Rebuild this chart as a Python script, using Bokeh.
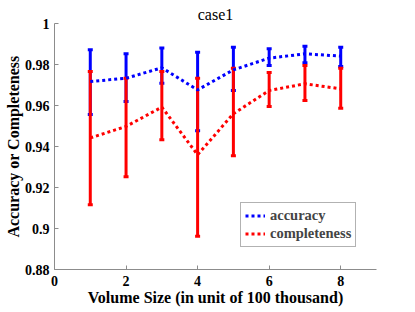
from bokeh.plotting import figure
from bokeh.models import (Whisker, ColumnDataSource, FixedTicker, TeeHead,
                          Range1d, CustomJSTickFormatter)
from bokeh.embed import file_html
from bokeh.resources import INLINE

volume = [1, 2, 3, 4, 5, 6, 7, 8]
acc_mean = [0.9717, 0.9733, 0.9784, 0.9676, 0.9774, 0.9831, 0.9852, 0.9841]
acc_low = [0.9556, 0.9620, 0.9709, 0.9477, 0.9673, 0.9795, 0.9808, 0.9790]
acc_high = [0.9872, 0.9852, 0.9880, 0.9860, 0.9884, 0.9877, 0.9889, 0.9884]
comp_mean = [0.9442, 0.9498, 0.9592, 0.9360, 0.9560, 0.9673, 0.9706, 0.9681]
comp_low = [0.9116, 0.9252, 0.9433, 0.8962, 0.9355, 0.9595, 0.9624, 0.9587]
comp_high = [0.9766, 0.9733, 0.9766, 0.9733, 0.9782, 0.9761, 0.9795, 0.9782]
x_ticks = [0, 2, 4, 6, 8]
y_ticks = [0.88, 0.90, 0.92, 0.94, 0.96, 0.98, 1.0]

FONT = "Liberation Serif"
AX = "#8c8c8c"

p = figure(width=415, height=312, output_backend="svg", toolbar_location=None,
           x_range=Range1d(0, 9), y_range=Range1d(0.88, 1.0),
           title="case1",
           min_border_left=54, min_border_right=39, min_border_top=23, min_border_bottom=43)
p.title.align = "center"
p.title.text_font = FONT
p.title.text_font_style = "normal"
p.title.text_font_size = "16px"
p.title.text_color = "black"
p.title.standoff = 1
p.title.offset = 0
p.outline_line_color = None
p.grid.visible = False
p.background_fill_color = "white"

for ax in (p.xaxis[0], p.yaxis[0]):
    ax.axis_line_color = AX
    ax.major_tick_line_color = AX
    ax.major_tick_in = 4
    ax.major_tick_out = 0
    ax.minor_tick_line_color = None
    ax.major_label_text_font = FONT
    ax.major_label_text_font_style = "bold"
    ax.major_label_text_font_size = "14px"
    ax.major_label_text_color = "black"
    ax.axis_label_text_font = FONT
    ax.axis_label_text_font_style = "bold"
    ax.axis_label_text_font_size = "16px"
    ax.axis_label_text_color = "black"

p.xaxis.ticker = FixedTicker(ticks=x_ticks)
p.yaxis.ticker = FixedTicker(ticks=y_ticks)
p.yaxis.formatter = CustomJSTickFormatter(
    code="return tick.toFixed(2).replace(/0+$/,'').replace(/\\.$/,'');")
p.xaxis.axis_label = "Volume Size (in unit of 100 thousand)"
p.yaxis.axis_label = "Accuracy or Completeness"
p.xaxis.major_label_standoff = 6
p.xaxis.axis_label_standoff = 0
p.yaxis.major_label_standoff = 5
p.yaxis.axis_label_standoff = 0

series = [
    ("accuracy", acc_mean, acc_low, acc_high, "#0000ff"),
    ("completeness", comp_mean, comp_low, comp_high, "#ff0000"),
]
for name, mean, lo, hi, col in series:
    src = ColumnDataSource(dict(x=volume, m=mean, lo=lo, hi=hi))
    w = Whisker(base="x", lower="lo", upper="hi", source=src,
                line_color=col, line_width=3,
                upper_head=TeeHead(size=5, line_color=col, line_width=3),
                lower_head=TeeHead(size=5, line_color=col, line_width=3))
    p.add_layout(w)
    p.line("x", "m", source=src, line_color=col, line_width=3, line_dash="3 3",
           legend_label=name)

p.legend.location = (186, 22)
p.legend.border_line_color = "#666666"
p.legend.border_line_width = 1
p.legend.background_fill_alpha = 1
p.legend.label_text_font = FONT
p.legend.label_text_font_style = "bold"
p.legend.label_text_font_size = "14.5px"
p.legend.glyph_width = 20
p.legend.glyph_height = 15
p.legend.label_height = 15
p.legend.spacing = 1
p.legend.padding = 4
p.legend.margin = 0
p.legend.label_standoff = 5

open("out.html", "w").write(file_html(p, INLINE))
